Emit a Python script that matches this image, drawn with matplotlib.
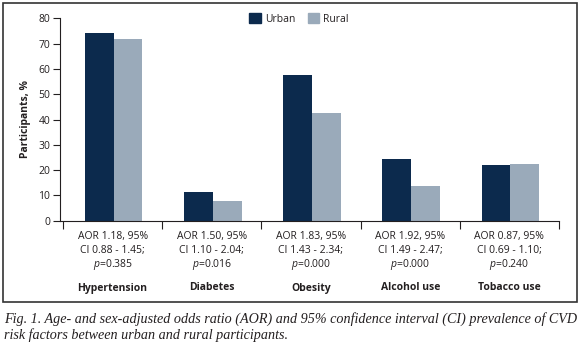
import matplotlib.pyplot as plt
from matplotlib.patches import Rectangle, Patch
import numpy as np

categories = ["Hypertension", "Diabetes", "Obesity", "Alcohol use", "Tobacco use"]
urban = [74.1, 11.5, 57.5, 24.3, 22.0]
rural = [71.9, 7.9, 42.7, 13.8, 22.4]
aor = ["AOR 1.18, 95%", "AOR 1.50, 95%", "AOR 1.83, 95%", "AOR 1.92, 95%", "AOR 0.87, 95%"]
ci = ["CI 0.88 - 1.45;", "CI 1.10 - 2.04;", "CI 1.43 - 2.34;", "CI 1.49 - 2.47;", "CI 0.69 - 1.10;"]
pvals = ["0.385", "0.016", "0.000", "0.000", "0.240"]
caption = ("Fig. 1. Age- and sex-adjusted odds ratio (AOR) and 95% confidence interval (CI) prevalence of CVD\n"
           "risk factors between urban and rural participants.")

urban_color = "#0c2a4d"
rural_color = "#9aaaba"
text_color = "#231f20"

plt.rcParams['font.family'] = ['Open Sans', 'DejaVu Sans']
plt.rcParams['mathtext.fontset'] = 'custom'
plt.rcParams['mathtext.it'] = 'Open Sans:italic'
plt.rcParams['mathtext.rm'] = 'Open Sans'

W, H = 580, 348
fig = plt.figure(figsize=(W / 100, H / 100), dpi=100)

def px(x0, y0, x1, y1):
    # pixel box (top-left origin) -> figure fraction rect
    return [x0 / W, 1 - y1 / H, (x1 - x0) / W, (y1 - y0) / H]

ax = fig.add_axes(px(60, 18.3, 559, 220.7))

x = np.arange(len(categories))
bw = 0.29
ax.bar(x - bw / 2 + 0.01, urban, bw, color=urban_color, label="Urban")
ax.bar(x + bw / 2 + 0.01, rural, bw, color=rural_color, label="Rural")

ax.set_xlim(-0.53, 4.5)
ax.set_ylim(0, 80)
ax.set_yticks(range(0, 81, 10))
ax.set_xticks(np.arange(-0.5, 5, 1.0))
ax.set_xticklabels([])
ax.tick_params(axis='y', labelsize=7.5, length=5, width=0.8, colors=text_color, pad=2)
ax.tick_params(axis='x', length=6, width=0.8, colors=text_color)
for s in ["top", "right"]:
    ax.spines[s].set_visible(False)
for s in ["left", "bottom"]:
    ax.spines[s].set_linewidth(0.8)
    ax.spines[s].set_color(text_color)
ax.spines['left'].set_bounds(0, 80)
ax.set_ylabel("Participants, %", fontsize=7.5, fontweight='bold', color=text_color, labelpad=5)

tr = ax.get_xaxis_transform()
def ay(ypix):
    return (220.7 - ypix) / (220.7 - 18.3)

for i in range(len(categories)):
    ax.text(i, ay(236), aor[i], transform=tr, ha='center', va='center', fontsize=7.5, color=text_color)
    ax.text(i, ay(250), ci[i], transform=tr, ha='center', va='center', fontsize=7.5, color=text_color)
    ax.text(i, ay(264), "$p$=" + pvals[i], transform=tr, ha='center', va='center', fontsize=7.5, color=text_color)
    ax.text(i, ay(288), categories[i], transform=tr, ha='center', va='center', fontsize=7.5,
            fontweight='bold', color=text_color)

handles = [Patch(color=urban_color, label="Urban"), Patch(color=rural_color, label="Rural")]
fig.legend(handles=handles, loc='center', bbox_to_anchor=(299 / W, 1 - 19 / H), ncol=2, frameon=False,
           fontsize=7.5, handlelength=1.1, handleheight=1.1, handletextpad=0.4, columnspacing=1.2,
           labelcolor=text_color)

box = Rectangle((3 / W, 1 - 302 / H), 574 / W, 299 / H, transform=fig.transFigure,
                fill=False, edgecolor="#333333", linewidth=1.2)
fig.patches.append(box)

fig.text(4 / W, 1 - 312 / H, caption, ha='left', va='top', fontsize=10.15, style='italic',
         family='Liberation Serif', color=text_color, linespacing=1.2)

fig.savefig("out.png", dpi=100)
